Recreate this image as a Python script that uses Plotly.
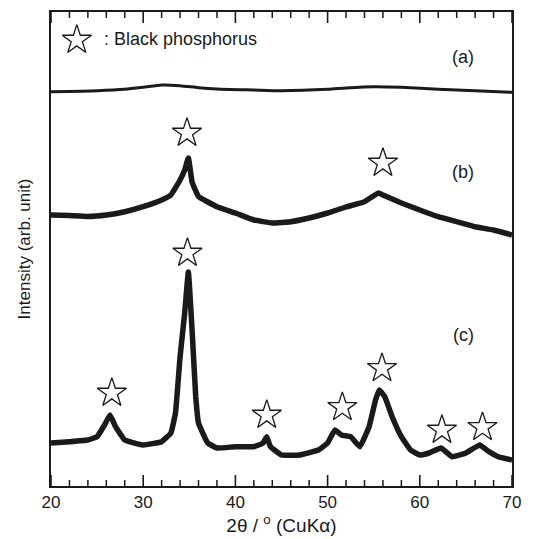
import plotly.graph_objects as go

# 2theta (deg) and intensity (arb. unit, already offset for stacking)
x_a = [20, 25, 28, 30, 32, 34, 36, 38, 42, 45, 50, 52, 55, 58, 62, 66, 70]
y_a = [394.3, 395.3, 396.7, 398.7, 401, 400.3, 398.3, 397, 396, 395.3, 396.7, 398, 399.3, 398.7, 396.7, 395.3, 393.7]

x_b = [20, 22, 24, 26, 28, 30, 32, 33, 34, 34.5, 34.9, 35.3, 35.7, 36, 38, 40, 42, 44, 46, 48,
       50, 52, 54, 55.5, 56, 58, 60, 62, 64, 66, 68, 70]
py_b = [215, 215.5, 216.5, 215, 211.7, 206.7, 200, 195, 180, 170, 158, 182, 191, 196.7, 206.7, 213, 220, 223, 221.7, 218,
        213, 207, 201.7, 193, 195, 203, 210, 216.7, 221.7, 226.7, 230, 235]
y_b = [486 - v for v in py_b]

x_c = [20, 22, 24, 25, 25.8, 26.4, 27, 28, 30, 32, 33, 33.5, 34, 34.5, 34.9, 35.3, 35.7, 36, 37, 38,
       40, 42, 43, 43.4, 43.8, 45, 47, 49, 50, 50.8, 51.5, 52.5, 53.5, 54.5, 55.2, 55.6, 56.2, 57, 58, 59,
       60, 61, 62.3, 63.5, 65, 66.5, 67.5, 68.5, 70]
py_c = [443, 441.7, 440, 436.7, 425, 415, 426.7, 440, 445, 441.7, 433, 413, 356.7, 313, 272, 330, 396.7, 423, 443, 448,
        446.7, 446.7, 443, 436.7, 446.7, 455, 455, 450, 443, 430, 435, 436.7, 446.7, 426.7, 400, 390, 396.7, 416.7, 436.7, 450,
        455, 453, 448, 456.7, 453, 445, 451.7, 456.7, 460]
y_c = [486 - v for v in py_c]

# Black phosphorus peak markers
star_x = [34.75, 56.0, 26.6, 34.8, 43.4, 51.6, 55.9, 62.4, 66.8]
star_y = [353, 323, 93, 233, 71, 78.7, 117.7, 56, 58.7]

labels = ["(a)", "(b)", "(c)"]
label_x = [64.7, 64.7, 64.7]
label_y = [429, 314, 151]

major_ticks = [20, 30, 40, 50, 60, 70]
minor_ticks = [22, 24, 26, 28, 32, 34, 36, 38, 42, 44, 46, 48, 52, 54, 56, 58, 62, 64, 66, 68]

FONT = "Liberation Sans, Arial, sans-serif"
INK = "#1a1a1a"
PLOT_H = 474.0

fig = go.Figure()
fig.add_trace(go.Scatter(x=x_a, y=y_a, mode="lines", line=dict(color=INK, width=3, shape="spline", smoothing=0.6), hoverinfo="skip"))
fig.add_trace(go.Scatter(x=x_b, y=y_b, mode="lines", line=dict(color=INK, width=5.5, shape="spline", smoothing=0.3), hoverinfo="skip"))
fig.add_trace(go.Scatter(x=x_c, y=y_c, mode="lines", line=dict(color=INK, width=5.5, shape="spline", smoothing=0.3), hoverinfo="skip"))
fig.add_trace(go.Scatter(x=star_x, y=star_y, mode="markers", hoverinfo="skip",
                         marker=dict(symbol="star-open", size=22, color=INK, line=dict(width=1.3, color=INK))))
# legend star
fig.add_trace(go.Scatter(x=[22.8], y=[446], mode="markers", hoverinfo="skip",
                         marker=dict(symbol="star-open", size=22, color=INK, line=dict(width=1.3, color=INK))))

fig.add_annotation(x=25.5, y=447, text=": Black phosphorus", showarrow=False, xanchor="left", yanchor="middle",
                   font=dict(family=FONT, size=18, color=INK))
for t, lx, ly in zip(labels, label_x, label_y):
    fig.add_annotation(x=lx, y=ly, text=t, showarrow=False, xanchor="center", yanchor="middle",
                       font=dict(family=FONT, size=18, color=INK))

# inward ticks on bottom and top edges, positioned through the x scale
for vals, length, w in ((major_ticks, 11, 1.6), (minor_ticks, 6, 1.5)):
    frac = length / PLOT_H
    for v in vals:
        fig.add_shape(type="line", xref="x", yref="paper", x0=v, x1=v, y0=0, y1=frac,
                      line=dict(color=INK, width=w), layer="above")
        fig.add_shape(type="line", xref="x", yref="paper", x0=v, x1=v, y0=1, y1=1 - frac,
                      line=dict(color=INK, width=w), layer="above")

fig.update_layout(
    width=543, height=539,
    margin=dict(l=51, r=31, t=12, b=53),
    paper_bgcolor="white", plot_bgcolor="white",
    showlegend=False,
    font=dict(family=FONT, color=INK),
    xaxis=dict(range=[20, 70], tickmode="array", tickvals=major_ticks, ticks="outside", ticklen=0,
               showline=True, linewidth=1.5, linecolor=INK, mirror=True,
               showgrid=False, zeroline=False, tickfont=dict(size=17), automargin=False,
               title=dict(text="2θ / <sup>o</sup> (CuKα)", font=dict(size=19), standoff=4)),
    yaxis=dict(range=[0, 474], showticklabels=False, ticks="", showline=True, linewidth=1.5, linecolor=INK,
               mirror=True, showgrid=False, zeroline=False, automargin=False,
               title=dict(text="Intensity (arb. unit)", font=dict(size=17), standoff=14)),
)

fig.write_html("out.html", config={"displayModeBar": False},
               post_script="document.body.style.margin='0';document.body.style.overflow='hidden';")
